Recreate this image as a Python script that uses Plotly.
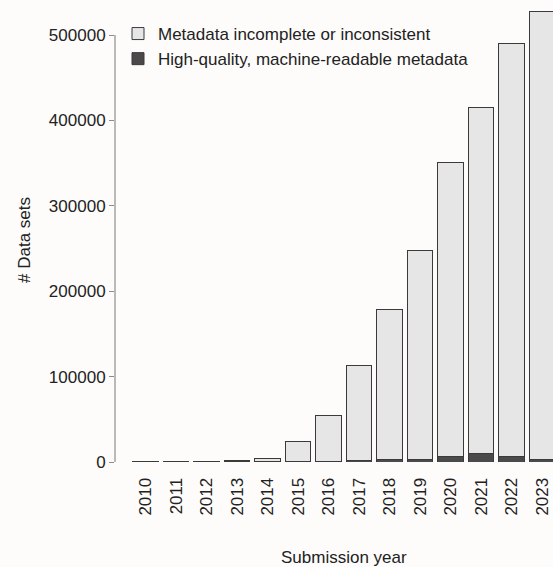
import plotly.graph_objects as go

years = [2010, 2011, 2012, 2013, 2014, 2015, 2016, 2017, 2018, 2019, 2020, 2021, 2022, 2023]
high_quality = [100, 100, 150, 700, 400, 300, 500, 1800, 2500, 3000, 6200, 10200, 7000, 3500]
incomplete = [500, 600, 750, 900, 3900, 23900, 53700, 110700, 176500, 245000, 344800, 405300, 483500, 523500]
y_ticks = [0, 100000, 200000, 300000, 400000, 500000]
y_tick_labels = ["0", "100000", "200000", "300000", "400000", "500000"]

FONT = "Liberation Sans, Arial, Helvetica, sans-serif"
FS = 17
TXT = "#222222"
OUT = "#3a3a3a"

fig = go.Figure()
fig.add_trace(go.Bar(
    x=years, y=high_quality, name="High-quality, machine-readable metadata",
    marker=dict(color="#4a4a4a", line=dict(color=OUT, width=1)),
    cliponaxis=False,
))
fig.add_trace(go.Bar(
    x=years, y=incomplete, name="Metadata incomplete or inconsistent",
    marker=dict(color="#e6e6e6", line=dict(color=OUT, width=1)),
    cliponaxis=False,
))

W, H = 553, 567
L, B = 115, 105
PH = H - B

fig.update_layout(
    width=W, height=H,
    margin=dict(l=L, r=0, t=0, b=B, pad=0),
    barmode="stack", bargap=0.15,
    paper_bgcolor="#fdfcfb", plot_bgcolor="#fdfcfb",
    font=dict(family=FONT, size=FS, color=TXT),
    showlegend=True,
    legend=dict(
        x=(118 - L) / (W - L), y=1 - 16 / PH, xanchor="left", yanchor="top",
        traceorder="reversed", bgcolor="rgba(0,0,0,0)",
        font=dict(family=FONT, size=FS, color=TXT),
    ),
    xaxis=dict(
        range=[2009.0, 2023.36], tickmode="array", tickvals=years,
        ticktext=[str(y) for y in years], tickangle=-90,
        ticks="outside", ticklen=8, tickcolor="rgba(0,0,0,0)",
        showline=False, showgrid=False, zeroline=False,
        tickfont=dict(family=FONT, size=FS, color=TXT),
    ),
    yaxis=dict(
        range=[0, 541000], tickmode="array", tickvals=y_ticks, ticktext=y_tick_labels,
        ticks="outside", ticklen=5, tickcolor="#8c8c8c", tickwidth=1.2,
        showline=False, showgrid=False, zeroline=False,
        tickfont=dict(family=FONT, size=FS, color=TXT),
    ),
)

fig.add_shape(type="line", xref="paper", yref="y", x0=0, x1=0,
              y0=y_ticks[0], y1=y_ticks[-1], line=dict(color="#8c8c8c", width=1.2))

fig.add_annotation(text="Submission year", xref="paper", yref="paper",
                   x=(343.7 - L) / (W - L), y=1 - 557 / PH, xanchor="center", yanchor="middle",
                   showarrow=False, font=dict(family=FONT, size=FS, color=TXT))
fig.add_annotation(text="# Data sets", xref="paper", yref="paper", textangle=-90,
                   x=(25 - L) / (W - L), y=1 - 240 / PH, xanchor="center", yanchor="middle",
                   showarrow=False, font=dict(family=FONT, size=FS, color=TXT))

fig.write_html("out.html")
